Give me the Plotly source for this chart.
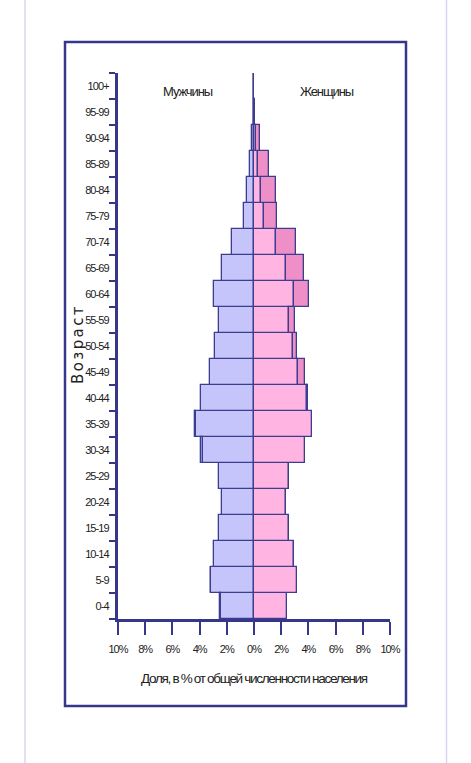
import plotly.graph_objects as go

ages = ["0-4", "5-9", "10-14", "15-19", "20-24", "25-29", "30-34", "35-39", "40-44",
        "45-49", "50-54", "55-59", "60-64", "65-69", "70-74", "75-79", "80-84",
        "85-89", "90-94", "95-99", "100+"]
male = [2.48, 3.17, 2.92, 2.58, 2.35, 2.58, 3.90, 4.37, 3.90, 3.27, 2.90, 2.58,
        2.92, 2.35, 1.62, 0.75, 0.55, 0.30, 0.15, 0.03, 0.01]
female = [2.45, 3.13, 2.94, 2.60, 2.37, 2.60, 3.72, 4.30, 3.98, 3.78, 3.13, 3.04,
          4.03, 3.70, 3.07, 1.70, 1.60, 1.08, 0.42, 0.08, 0.02]
x_ticks = [-10, -8, -6, -4, -2, 0, 2, 4, 6, 8, 10]
x_tick_labels = ["10%", "8%", "6%", "4%", "2%", "0%", "2%", "4%", "6%", "8%", "10%"]

NAVY = "#36368a"
OUT = "#3d3d90"
SANS = "Liberation Sans, Arial, sans-serif"
TXT = "#222222"


def tight(s, sp):
    return '<span style="letter-spacing:%spx">%s</span>' % (sp, s)


common = [min(m, f) for m, f in zip(male, female)]
male_excess = [(m - f) if m - f > 0.005 else None for m, f in zip(male, female)]
female_excess = [(f - m) if f - m > 0.005 else None for m, f in zip(male, female)]

fig = go.Figure()
fig.add_trace(go.Bar(y=ages, x=[-c for c in common], orientation="h",
                     marker=dict(color="#c5c5fb", line=dict(color=OUT, width=1.3)),
                     name="Мужчины", showlegend=False))
fig.add_trace(go.Bar(y=ages, x=[-e if e is not None else None for e in male_excess],
                     orientation="h",
                     marker=dict(color="#a9a9f2", line=dict(color=OUT, width=1.3)),
                     showlegend=False))
fig.add_trace(go.Bar(y=ages, x=common, orientation="h",
                     marker=dict(color="#ffb4e1", line=dict(color=OUT, width=1.3)),
                     name="Женщины", showlegend=False))
fig.add_trace(go.Bar(y=ages, x=female_excess, orientation="h",
                     marker=dict(color="#ee8fc8", line=dict(color=OUT, width=1.3)),
                     showlegend=False))

# pixel -> paper helpers (plot area: x 118..390, y 73..619)
L, R, T, B = 118, 390, 73, 619
W, H = 471, 763


def px(x):
    return (x - L) / (R - L)


def py(y):
    return (B - y) / (B - T)


shapes = [
    dict(type="rect", xref="paper", yref="paper", x0=px(65), x1=px(406), y0=py(42), y1=py(706),
         line=dict(color=NAVY, width=2.5), layer="below"),
    dict(type="line", xref="paper", yref="paper", x0=px(25), x1=px(25), y0=py(0), y1=py(763),
         line=dict(color="#dcd4f2", width=1.5)),
    dict(type="line", xref="paper", yref="paper", x0=px(446.5), x1=px(446.5), y0=py(0), y1=py(763),
         line=dict(color="#dcd4f2", width=1.5)),
]

annotations = [
    dict(text=tight("Мужчины", -1.1), xref="paper", yref="paper", x=px(187.5), y=py(91.5),
         showarrow=False, font=dict(family=SANS, size=13, color=TXT),
         xanchor="center", yanchor="middle"),
    dict(text=tight("Женщины", -1.1), xref="paper", yref="paper", x=px(326.5), y=py(91.5),
         showarrow=False, font=dict(family=SANS, size=13, color=TXT),
         xanchor="center", yanchor="middle"),
    dict(text=tight("Возраст", 2.4), xref="paper", yref="paper",
         x=px(78), y=py(344), showarrow=False, textangle=-90,
         font=dict(family="DejaVu Sans, sans-serif", size=15, color=TXT),
         xanchor="center", yanchor="middle"),
    dict(text=tight("Доля, в % от общей численности населения", -1.3), xref="paper", yref="paper",
         x=px(254), y=py(678), showarrow=False,
         font=dict(family=SANS, size=13.5, color=TXT), xanchor="center", yanchor="middle"),
]

fig.update_layout(
    width=W, height=H,
    margin=dict(l=L, r=W - R, t=T, b=H - B, pad=0),
    paper_bgcolor="white", plot_bgcolor="white",
    barmode="relative", bargap=0,
    shapes=shapes, annotations=annotations,
    showlegend=False,
    xaxis=dict(range=[-10, 10], tickvals=x_ticks,
               ticktext=[tight(t, -1.0) for t in x_tick_labels],
               showgrid=False, zeroline=False, showline=True, linecolor=NAVY, linewidth=3,
               ticks="outside", ticklen=13, tickwidth=2, tickcolor=NAVY,
               ticklabelstandoff=5,
               tickfont=dict(family=SANS, size=11, color=TXT), fixedrange=True),
    yaxis=dict(type="category", categoryorder="array", categoryarray=ages,
               tickmode="array", tickvals=ages, ticktext=[tight(a, -0.9) for a in ages],
               range=[-0.5, 20.5], showgrid=False, zeroline=False,
               showline=True, linecolor=NAVY, linewidth=3,
               ticks="outside", ticklen=6, tickwidth=2, tickcolor=NAVY,
               tickson="boundaries", ticklabelstandoff=4,
               tickfont=dict(family=SANS, size=11, color=TXT), fixedrange=True),
)

fig.write_html("out.html")
